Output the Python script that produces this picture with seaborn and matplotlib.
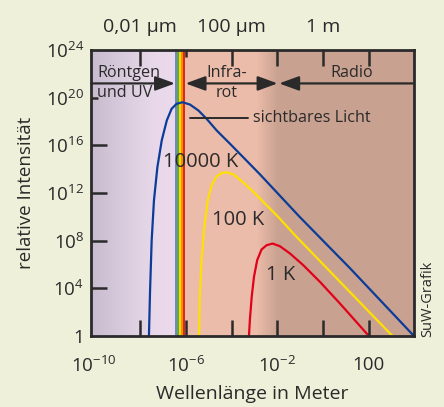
import numpy as np
import matplotlib
matplotlib.use("Agg")
import matplotlib.pyplot as plt
from matplotlib.colors import to_rgb
import seaborn as sns

# log10 wavelength (m) / log10 relative intensity
blue_logx = [-7.61, -7.56, -7.49, -7.39, -7.24, -7.05, -6.83, -6.62, -6.40, -6.14,
             -5.82, -5.45, -5.09, -4.65, -4.07, -2.76, -1.01, 1.17, 3.97]
blue_logy = [0.0, 3.85, 8.04, 11.39, 14.18, 16.42, 18.09, 19.07, 19.49, 19.62,
             19.43, 18.93, 18.23, 17.25, 16.14, 13.57, 9.97, 5.70, 0.0]
yellow_logx = [-5.42, -5.38, -5.31, -5.19, -5.04, -4.87, -4.65, -4.43, -4.21, -3.93,
               -3.56, -3.12, -2.54, -1.96, -1.23, 3.03]
yellow_logy = [0.0, 3.58, 6.37, 9.15, 11.39, 12.65, 13.40, 13.68, 13.74, 13.57,
               13.01, 12.23, 11.11, 9.99, 8.46, 0.0]
red_logx = [-3.24, -3.20, -3.12, -3.02, -2.88, -2.69, -2.47, -2.21, -1.89, -1.45,
            -0.87, -0.14, 0.73, 2.00]
red_logy = [0.0, 1.34, 3.29, 4.97, 6.37, 7.26, 7.62, 7.76, 7.54, 6.93,
            5.95, 4.55, 2.74, 0.0]

curve_names = ["10000 K", "100 K", "1 K"]
curve_colors = ["#0b3c98", "#ffe000", "#e2001a"]
label_logx = [-5.36, -3.72, -1.84]
label_logy = [14.6, 9.7, 5.1]

# spectral bands (log10 wavelength)
x_lo, x_hi = -10.14, 3.97
uv_stops = [-10.14, -9.0, -8.0, -7.3, -6.46]
uv_colors = ["#c9bbce", "#d5c8da", "#e1d3e4", "#e8d8ea", "#eadaeb"]
vis_edges = [-6.46, -6.37, -6.28, -6.19, -6.11, -6.02]
vis_colors = ["#7387c5", "#5aad46", "#f6d800", "#f29100", "#e1251b"]
ir_color = "#ebbca9"
ir_radio = [-2.9, -1.95]
radio_color = "#c9a190"

xticks = [-10, -8, -6, -4, -2, 0, 2]
xticklabels = ["10$^{-10}$", "", "10$^{-6}$", "", "10$^{-2}$", "", "100"]
top_labels = ["", "0,01 µm", "", "100 µm", "", "1 m", ""]
yticks = [0, 4, 8, 12, 16, 20, 24]
yticklabels = ["1", "10$^{4}$", "10$^{8}$", "10$^{12}$", "10$^{16}$", "10$^{20}$", "10$^{24}$"]

sns.set_style("ticks")
plt.rcParams["font.family"] = ["Open Sans", "DejaVu Sans"]
plt.rcParams["mathtext.default"] = "regular"
plt.rcParams["axes.axisbelow"] = False
ink = "#2a2a2a"
bg = "#eef0da"

fig = plt.figure(figsize=(4.44, 4.07), dpi=100, facecolor=bg)
ax = fig.add_axes([0.205, 0.1744, 0.7274, 0.7026])
ax.set_xscale("log")
ax.set_yscale("log")

# background bands
N = 1400
cols = x_lo + (x_hi - x_lo) * (np.arange(N) + 0.5) / N
img = np.zeros((1, N, 3))
uv_rgb = np.array([to_rgb(c) for c in uv_colors])
ir_rgb = np.array(to_rgb(ir_color))
ra_rgb = np.array(to_rgb(radio_color))
for i, c in enumerate(cols):
    if c < vis_edges[0]:
        img[0, i] = [np.interp(c, uv_stops, uv_rgb[:, k]) for k in range(3)]
    elif c < vis_edges[-1]:
        j = np.searchsorted(vis_edges, c) - 1
        img[0, i] = to_rgb(vis_colors[j])
    elif c < ir_radio[0]:
        img[0, i] = ir_rgb
    elif c < ir_radio[1]:
        t = (c - ir_radio[0]) / (ir_radio[1] - ir_radio[0])
        img[0, i] = ir_rgb * (1 - t) + ra_rgb * t
    else:
        img[0, i] = ra_rgb
ax.imshow(img, extent=(0, 1, 0, 1), transform=ax.transAxes, aspect="auto",
          interpolation="nearest", zorder=-2)

# curves
for lx, ly, col in zip([blue_logx, yellow_logx, red_logx],
                       [blue_logy, yellow_logy, red_logy], curve_colors):
    sns.lineplot(x=10.0 ** np.array(lx), y=10.0 ** np.array(ly), ax=ax, color=col,
                 lw=1.6, sort=False, estimator=None, zorder=3)

for name, lx, ly in zip(curve_names, label_logx, label_logy):
    ax.text(10 ** lx, 10 ** ly, name, ha="center", va="center", fontsize=14.5,
            color=ink, zorder=4)

# band arrows
arr = dict(color=ink, lw=1.6, shrinkA=0, shrinkB=0, mutation_scale=20)
y_arr = 10 ** 21.2
ax.annotate("", xy=(10 ** -6.47, y_arr), xytext=(10 ** x_lo, y_arr),
            arrowprops=dict(arrowstyle="-|>,head_length=0.6,head_width=0.22", **arr), zorder=4)
ax.annotate("", xy=(10 ** -1.99, y_arr), xytext=(10 ** -6.01, y_arr),
            arrowprops=dict(arrowstyle="<|-|>,head_length=0.6,head_width=0.22", **arr), zorder=4)
ax.annotate("", xy=(10 ** -1.92, y_arr), xytext=(10 ** x_hi, y_arr),
            arrowprops=dict(arrowstyle="-|>,head_length=0.6,head_width=0.22", **arr), zorder=4)

fs = 11.6
ax.text(10 ** -9.88, 10 ** 22.1, "Röntgen", ha="left", va="center", fontsize=fs, color=ink)
ax.text(10 ** -9.86, 10 ** 20.4, "und UV", ha="left", va="center", fontsize=fs, color=ink)
ax.text(10 ** -4.2, 10 ** 22.1, "Infra-", ha="center", va="center", fontsize=fs, color=ink)
ax.text(10 ** -4.2, 10 ** 20.4, "rot", ha="center", va="center", fontsize=fs, color=ink)
ax.text(10 ** 1.26, 10 ** 22.1, "Radio", ha="center", va="center", fontsize=fs, color=ink)
ax.plot([10 ** -5.82, 10 ** -3.28], [10 ** 18.26, 10 ** 18.26], color=ink, lw=1.4, zorder=4)
ax.text(10 ** -3.07, 10 ** 18.26, "sichtbares Licht", ha="left", va="center",
        fontsize=fs, color=ink)

ax.set_xlim(10 ** x_lo, 10 ** x_hi)
ax.set_ylim(1, 1e24)
ax.minorticks_off()
ax.set_xticks([10.0 ** v for v in xticks])
ax.set_xticklabels(xticklabels)
ax.set_yticks([10.0 ** v for v in yticks])
ax.set_yticklabels(yticklabels)

top = ax.twiny()
top.set_xscale("log")
top.set_xlim(ax.get_xlim())
top.minorticks_off()
top.set_xticks([10.0 ** v for v in xticks])
top.set_xticklabels(top_labels)
for s in top.spines.values():
    s.set_visible(False)

tick_kw = dict(direction="in", length=11.5, width=1.8, color=ink, labelcolor=ink)
ax.tick_params(axis="x", labelsize=13.5, pad=14.5, **tick_kw)
ax.tick_params(axis="y", labelsize=13.5, pad=5, **tick_kw)
top.tick_params(axis="x", labelsize=14, pad=10, **tick_kw)
for s in ax.spines.values():
    s.set_linewidth(2.0)
    s.set_color(ink)
    s.set_zorder(5)

ytk = ax.yaxis.get_major_ticks()
ytk[0].tick1line.set_visible(False)
ytk[-1].tick1line.set_visible(False)
ytk[5].tick1line.set_markersize(5)
ax.xaxis.get_major_ticks()[0].tick1line.set_visible(False)
ttk = top.xaxis.get_major_ticks()
ttk[0].tick2line.set_visible(False)
ttk[2].tick2line.set_markersize(5)
ax.xaxis.set_zorder(4.5)
ax.yaxis.set_zorder(4.5)
top.xaxis.set_zorder(4.5)

ax.set_xlabel("Wellenlänge in Meter", fontsize=14, color=ink)
ax.set_ylabel("relative Intensität", fontsize=13.5, color=ink)
ax.xaxis.set_label_coords(0.5, -0.17)
ax.yaxis.set_label_coords(-0.175, 0.5)

fig.text(0.964, 0.173, "SuW-Grafik", rotation=90, ha="center", va="bottom",
         fontsize=10.5, color=ink)

fig.savefig("out.png", dpi=100, facecolor=bg)
